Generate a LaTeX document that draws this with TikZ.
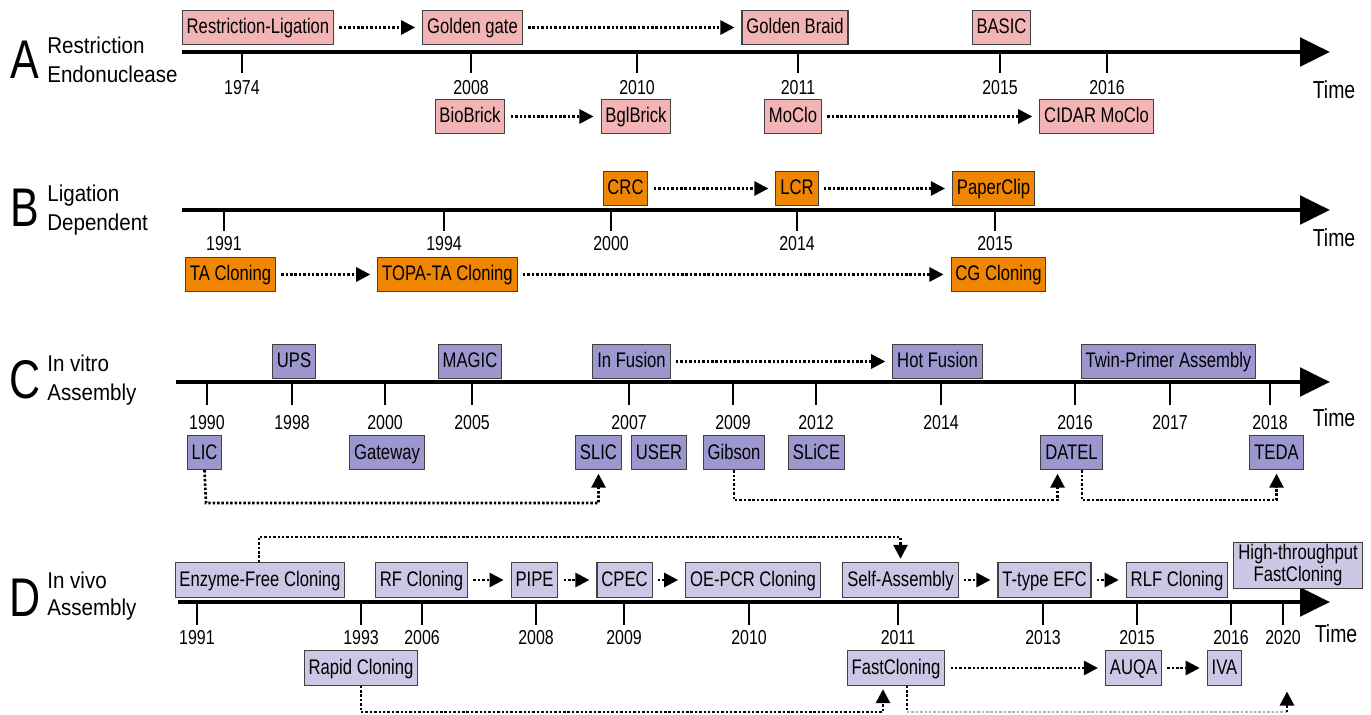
\documentclass[tikz,border=0pt]{standalone}
\usepackage{fontspec}
\setmainfont{Liberation Sans}[FakeStretch=0.79]
\newfontfamily\ttlfont{Liberation Sans}[FakeStretch=0.9]
\usetikzlibrary{arrows.meta,calc}
\definecolor{cA}{HTML}{F3B4B6}
\definecolor{cB}{HTML}{EF8500}
\definecolor{cC}{HTML}{9D97CF}
\definecolor{cD}{HTML}{CBC8E6}
\begin{document}
\begin{tikzpicture}[x=0.02cm,y=-0.02cm,
  box/.style={draw=black!75,line width=0.6pt,minimum height=19.5pt,inner xsep=2.5pt,inner ysep=0pt,text height=8.6pt,text depth=1.2pt,font=\fontsize{12}{13}\selectfont},
  boxA/.style={box,fill=cA},
  boxB/.style={box,fill=cB},
  boxC/.style={box,fill=cC},
  boxD/.style={box,fill=cD},
  axis/.style={line width=2.8pt,-{Triangle[length=17pt,width=16pt]}},
  tick/.style={line width=1.4pt},
  yr/.style={font=\fontsize{11.5}{13}\selectfont},
  timelbl/.style={font=\fontsize{14}{15}\selectfont},
  big/.style={font=\fontsize{31}{32}\selectfont},
  rowttl/.style={font=\ttlfont\fontsize{13}{14}\selectfont,anchor=base west,inner sep=0pt},
  dotline/.style={line width=1.5pt,dash pattern=on 1.4pt off 1.1pt},
  conn/.style={dotline,-{Triangle[length=8pt,width=8pt]},shorten <=3pt,shorten >=4pt},
  elb/.style={dotline,-{Triangle[length=8pt,width=8pt]},shorten >=2pt}
]
\useasboundingbox (0,0) rectangle (1371,715);

% ================= Row A =================
\node[big] (LA) at (25,60) {A};
\node[rowttl] (TA1) at (47,54) {Restriction};
\node[rowttl] (TA2) at (47,83) {Endonuclease};
\coordinate (A0) at (182,52);
\coordinate (A1) at (1330,52);
\draw[axis] (A0) -- (A1);
\foreach \x/\y in {242/1974,471/2008,637/2010,798/2011,1000/2015,1107/2016}{
  \draw[tick] (\x,52) -- ++(0,21);
  \node[yr] (yA\y) at (\x,88) {\y};
}
\node[timelbl] (tmA) at (1334,90) {Time};
\node[boxA] (RL) at (258,27.5) {Restriction-Ligation};
\node[boxA] (GG) at (472.5,27.5) {Golden gate};
\node[boxA] (GB) at (795,27.5) {Golden Braid};
\node[boxA] (BASIC) at (1001.5,27.5) {BASIC};
\node[boxA] (BB) at (470,116.5) {BioBrick};
\node[boxA] (BgB) at (636,116.5) {BglBrick};
\node[boxA] (MC) at (793,116.5) {MoClo};
\node[boxA] (CMC) at (1096.5,116.5) {CIDAR MoClo};
\draw[conn] (RL) -- (GG);
\draw[conn] (GG) -- (GB);
\draw[conn] (BB) -- (BgB);
\draw[conn] (MC) -- (CMC);

% ================= Row B =================
\node[big] (LB) at (25,208) {B};
\node[rowttl] (TB1) at (47,202) {Ligation};
\node[rowttl] (TB2) at (47,231) {Dependent};
\coordinate (B0) at (182,210);
\coordinate (B1) at (1330,210);
\draw[axis] (B0) -- (B1);
\foreach \x/\y in {224/1991,444/1994,611/2000,797/2014,995/2015}{
  \draw[tick] (\x,210) -- ++(0,21);
  \node[yr] (yB\y) at (\x,244) {\y};
}
\node[timelbl] (tmB) at (1334,238) {Time};
\node[boxB] (CRC) at (625.5,188.5) {CRC};
\node[boxB] (LCR) at (797,188.5) {LCR};
\node[boxB] (PC) at (993.5,188.5) {PaperClip};
\node[boxB] (TAC) at (230.5,274.5) {TA Cloning};
\node[boxB] (TOPA) at (447.5,274.5) {TOPA-TA Cloning};
\node[boxB] (CG) at (998.5,274.5) {CG Cloning};
\draw[conn] (CRC) -- (LCR);
\draw[conn] (LCR) -- (PC);
\draw[conn] (TAC) -- (TOPA);
\draw[conn] (TOPA) -- (CG);

% ================= Row C =================
\node[big] (LC) at (25,380) {C};
\node[rowttl] (TC1) at (47,372) {In vitro};
\node[rowttl] (TC2) at (47,401) {Assembly};
\coordinate (C0) at (176,382);
\coordinate (C1) at (1330,382);
\draw[axis] (C0) -- (C1);
\foreach \x/\y in {207/1990,292/1998,385/2000,472/2005,629/2007,733/2009,816/2012,941/2014,1075/2016,1170/2017,1270/2018}{
  \draw[tick] (\x,382) -- ++(0,23);
  \node[yr] (yC\y) at (\x,423) {\y};
}
\node[timelbl] (tmC) at (1334,418) {Time};
\node[boxC] (UPS) at (294,361.5) {UPS};
\node[boxC] (MAGIC) at (470,361.5) {MAGIC};
\node[boxC] (IF) at (631.5,361.5) {In Fusion};
\node[boxC] (HF) at (937.5,361.5) {Hot Fusion};
\node[boxC] (TPA) at (1168.5,361.5) {Twin-Primer Assembly};
\node[boxC] (LIC) at (204.5,452.5) {LIC};
\node[boxC] (GW) at (387,452.5) {Gateway};
\node[boxC] (SLIC) at (598.5,452.5) {SLIC};
\node[boxC] (USER) at (659,452.5) {USER};
\node[boxC] (GIB) at (734,452.5) {Gibson};
\node[boxC] (SLICE) at (816.5,452.5) {SLiCE};
\node[boxC] (DATEL) at (1071.5,452.5) {DATEL};
\node[boxC] (TEDA) at (1276.5,452.5) {TEDA};
\draw[conn] (IF) -- (HF);
\coordinate (c1) at (206,503);
\draw[elb] (LIC.south) -- (c1) -| (SLIC.south);
\coordinate (c2) at (734,500);
\draw[elb] (GIB.south) -- (c2) -| ($(DATEL.south)+(-14,0)$);
\coordinate (c3) at (1082,500);
\draw[elb] (DATEL.south -| c3) -- (c3) -| (TEDA.south);

% ================= Row D =================
\node[big] (LD) at (25,598) {D};
\node[rowttl] (TD1) at (47,588) {In vivo};
\node[rowttl] (TD2) at (47,615) {Assembly};
\coordinate (D0) at (178,602);
\coordinate (D1) at (1330,602);
\draw[axis] (D0) -- (D1);
\foreach \x/\y in {197/1991,361/1993,422/2006,536/2008,624/2009,749/2010,898/2011,1043/2013,1137/2015,1231/2016,1283/2020}{
  \draw[tick] (\x,602) -- ++(0,23);
  \node[yr] (yD\y) at (\x,638) {\y};
}
\node[timelbl] (tmD) at (1336,634) {Time};
\node[boxD] (EFC) at (260,580) {Enzyme-Free Cloning};
\node[boxD] (RF) at (421.5,580) {RF Cloning};
\node[boxD] (PIPE) at (534.5,580) {PIPE};
\node[boxD] (CPEC) at (624.5,580) {CPEC};
\node[boxD] (OE) at (753,580) {OE-PCR Cloning};
\node[boxD] (SA) at (900.5,580) {Self-Assembly};
\node[boxD] (TT) at (1044.5,580) {T-type EFC};
\node[boxD] (RLF) at (1177,580) {RLF Cloning};
\node[boxD,align=center,minimum height=26pt,text height=,text depth=,font=\fontsize{12}{12.5}\selectfont] (HT) at (1298,565.5) {High-throughput\\FastCloning};
\node[boxD] (RC) at (361,668) {Rapid Cloning};
\node[boxD] (FC) at (896,668) {FastCloning};
\node[boxD] (AUQA) at (1133.5,668) {AUQA};
\node[boxD] (IVA) at (1224.5,668) {IVA};
\draw[conn] (RF) -- (PIPE);
\draw[conn] (PIPE) -- (CPEC);
\draw[conn] (CPEC) -- (OE);
\draw[conn] (SA) -- (TT);
\draw[conn] (TT) -- (RLF);
\draw[conn] (FC) -- (AUQA);
\draw[conn] (AUQA) -- (IVA);
\coordinate (d0) at (259,537);
\draw[elb] (EFC.north -| d0) -- (d0) -| (SA.north);
\coordinate (d1) at (361,712);
\draw[elb] (RC.south) -- (d1) -| ($(FC.south)+(-13,0)$);
\coordinate (d2) at (907,712);
\coordinate (d3) at (1287,712);
\coordinate (ht) at (1287,688);
\draw[dotline] (FC.south -| d2) -- (d2);
\draw[dotline,line width=0.7pt,gray!60] (d2) -- (d3);
\draw[elb] (d3) -- (ht);
\end{tikzpicture}
\end{document}
